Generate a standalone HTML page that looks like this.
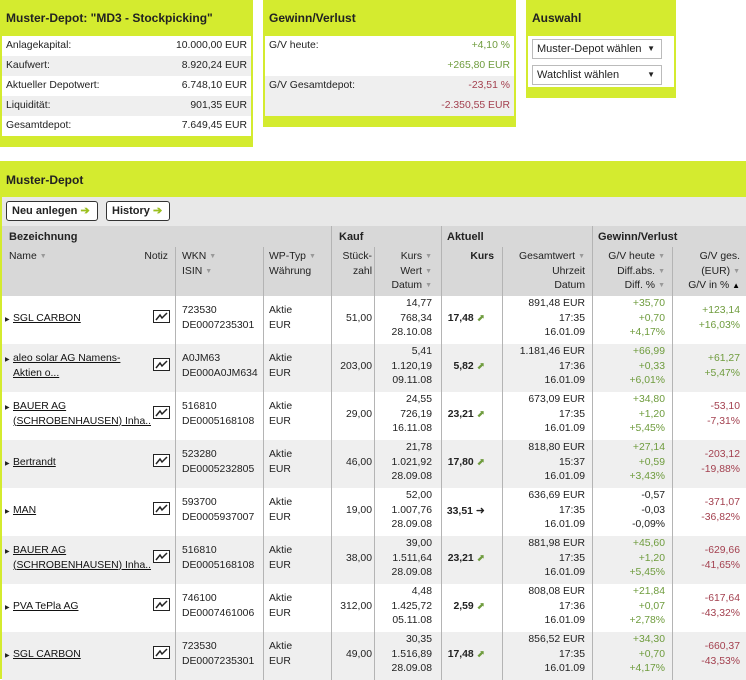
<!DOCTYPE html>
<html><head><meta charset="utf-8">
<style>
*{margin:0;padding:0;box-sizing:border-box}
body{width:746px;height:679px;overflow:hidden;background:#fff;font-family:"Liberation Sans",Arial,sans-serif;font-size:10.4px;color:#222;position:relative}
.a{position:absolute;white-space:nowrap}
.g{background:#d4eb2f}
.t{font-weight:bold;font-size:12px;color:#222}
.r{text-align:right}
.pos{color:#6f9c3e}.neg{color:#a3404f}
.s{font-size:7px;color:#999;margin-left:3px;vertical-align:1px}
.ln{position:absolute;width:1px;background:#b4b4b4}
.nm a{color:#111;text-decoration:underline}
.ml{line-height:14.5px}
.btn{position:absolute;border:1px solid #333;border-radius:3px;background:#fff;font-weight:bold;font-size:11px;height:20px;line-height:18px;padding:0 5px;white-space:nowrap}
.sel{position:absolute;border:1px solid #bbb;background:#fff;height:20px;line-height:18px;padding-left:4px;font-size:11px}
</style></head><body>

<div class="a g" style="left:0;top:0;width:253px;height:147px"></div>
<div class="a t" style="left:6px;top:11px">Muster-Depot: "MD3 - Stockpicking"</div>
<div class="a" style="left:2px;top:36px;width:249px;height:100px;background:#fff"></div>
<div class="a" style="left:2px;top:56px;width:249px;height:20px;background:#efefef"></div>
<div class="a" style="left:2px;top:96px;width:249px;height:20px;background:#efefef"></div>
<div id="sum"></div>

<div class="a g" style="left:263px;top:0;width:253px;height:127px"></div>
<div class="a t" style="left:269px;top:11px">Gewinn/Verlust</div>
<div class="a" style="left:265px;top:36px;width:249px;height:40px;background:#fff"></div>
<div class="a" style="left:265px;top:76px;width:249px;height:40px;background:#efefef"></div>
<div class="a" style="left:269px;top:40px">G/V heute:</div>
<div class="a r pos" style="right:236px;top:40px">+4,10 %</div>
<div class="a r pos" style="right:236px;top:60px">+265,80 EUR</div>
<div class="a" style="left:269px;top:80px">G/V Gesamtdepot:</div>
<div class="a r neg" style="right:236px;top:80px">-23,51 %</div>
<div class="a r neg" style="right:236px;top:100px">-2.350,55 EUR</div>

<div class="a g" style="left:526px;top:0;width:150px;height:98px"></div>
<div class="a t" style="left:532px;top:11px">Auswahl</div>
<div class="a" style="left:528px;top:36px;width:146px;height:51px;background:#fff"></div>
<div class="sel" style="left:532px;top:39px;width:130px">Muster-Depot wählen<span style="position:absolute;right:6px;font-size:8px">▼</span></div>
<div class="sel" style="left:532px;top:65px;width:130px">Watchlist wählen<span style="position:absolute;right:6px;font-size:8px">▼</span></div>

<div class="a g" style="left:0;top:161px;width:746px;height:518px"></div>
<div class="a t" style="left:6px;top:173px">Muster-Depot</div>
<div class="a" style="left:2px;top:197px;width:744px;height:29px;background:#e8e8e8"></div>
<div class="btn" style="left:6px;top:201px;width:92px">Neu anlegen <span style="color:#9bbf1f">➔</span></div>
<div class="btn" style="left:106px;top:201px;width:64px">History <span style="color:#9bbf1f">➔</span></div>
<div class="a" style="left:2px;top:226px;width:744px;height:70px;background:#d8d8d8"></div>
<div class="ln" style="left:331px;top:226px;height:70px"></div>
<div class="ln" style="left:441px;top:226px;height:70px"></div>
<div class="ln" style="left:592px;top:226px;height:70px"></div>
<div class="ln" style="left:175px;top:247px;height:49px"></div>
<div class="ln" style="left:263px;top:247px;height:49px"></div>
<div class="ln" style="left:374px;top:247px;height:49px"></div>
<div class="ln" style="left:502px;top:247px;height:49px"></div>
<div class="ln" style="left:672px;top:247px;height:49px"></div>
<div class="a" style="left:9px;top:231px;font-weight:bold;font-size:11px">Bezeichnung</div>
<div class="a" style="left:339px;top:231px;font-weight:bold;font-size:11px">Kauf</div>
<div class="a" style="left:447px;top:231px;font-weight:bold;font-size:11px">Aktuell</div>
<div class="a" style="left:598px;top:231px;font-weight:bold;font-size:11px">Gewinn/Verlust</div>
<div class="a" style="left:9px;top:251px">Name<span class="s">▼</span></div>
<div class="a r" style="right:578px;top:251px">Notiz</div>
<div class="a ml" style="left:182px;top:250px">WKN<span class="s">▼</span><br>ISIN<span class="s">▼</span></div>
<div class="a ml" style="left:269px;top:250px">WP-Typ<span class="s">▼</span><br>Währung</div>
<div class="a ml r" style="right:374px;top:250px">Stück-<br>zahl</div>
<div class="a ml r" style="right:314px;top:250px">Kurs<span class="s">▼</span><br>Wert<span class="s">▼</span><br>Datum<span class="s">▼</span></div>
<div class="a r" style="right:252px;top:251px;font-weight:bold">Kurs</div>
<div class="a ml r" style="right:161px;top:250px">Gesamtwert<span class="s">▼</span><br>Uhrzeit<br>Datum</div>
<div class="a ml r" style="right:81px;top:250px">G/V heute<span class="s">▼</span><br>Diff.abs.<span class="s">▼</span><br>Diff. %<span class="s">▼</span></div>
<div class="a ml r" style="right:6px;top:250px">G/V ges.<br>(EUR)<span class="s">▼</span><br>G/V in % <span style="font-size:8px;color:#000">▲</span></div>
<div id="rows"></div>

<script>
const sumLabels=["Anlagekapital:","Kaufwert:","Aktueller Depotwert:","Liquidität:","Gesamtdepot:"];
const sumValues=["10.000,00 EUR","8.920,24 EUR","6.748,10 EUR","901,35 EUR","7.649,45 EUR"];
const names=[["SGL CARBON"],["aleo solar AG Namens-","Aktien o..."],["BAUER AG","(SCHROBENHAUSEN) Inha.."],["Bertrandt"],["MAN"],["BAUER AG","(SCHROBENHAUSEN) Inha.."],["PVA TePla AG"],["SGL CARBON"]];
const wkn=["723530","A0JM63","516810","523280","593700","516810","746100","723530"];
const isin=["DE0007235301","DE000A0JM634","DE0005168108","DE0005232805","DE0005937007","DE0005168108","DE0007461006","DE0007235301"];
const stueck=["51,00","203,00","29,00","46,00","19,00","38,00","312,00","49,00"];
const kaufKurs=["14,77","5,41","24,55","21,78","52,00","39,00","4,48","30,35"];
const kaufWert=["768,34","1.120,19","726,19","1.021,92","1.007,76","1.511,64","1.425,72","1.516,89"];
const kaufDatum=["28.10.08","09.11.08","16.11.08","28.09.08","28.09.08","28.09.08","05.11.08","28.09.08"];
const kurs=["17,48","5,82","23,21","17,80","33,51","23,21","2,59","17,48"];
const trend=["up","up","up","up","flat","up","up","up"];
const gesamt=["891,48 EUR","1.181,46 EUR","673,09 EUR","818,80 EUR","636,69 EUR","881,98 EUR","808,08 EUR","856,52 EUR"];
const zeit=["17:35","17:36","17:35","15:37","17:35","17:35","17:36","17:35"];
const heuteAbs=["+35,70","+66,99","+34,80","+27,14","-0,57","+45,60","+21,84","+34,30"];
const diffAbs=["+0,70","+0,33","+1,20","+0,59","-0,03","+1,20","+0,07","+0,70"];
const diffPct=["+4,17%","+6,01%","+5,45%","+3,43%","-0,09%","+5,45%","+2,78%","+4,17%"];
const gvGes=["+123,14","+61,27","-53,10","-203,12","-371,07","-629,66","-617,64","-660,37"];
const gvPct=["+16,03%","+5,47%","-7,31%","-19,88%","-36,82%","-41,65%","-43,32%","-43,53%"];

const sum=document.getElementById('sum');
sumLabels.forEach((l,i)=>{
  const a=document.createElement('div');a.className='a';a.style.left='6px';a.style.top=(40+i*20)+'px';a.textContent=l;
  
  
  sum.appendChild(a);
  const b=document.createElement('div');b.className='a r';b.style.right=(746-247)+'px';b.style.top=(40+i*20)+'px';b.textContent=sumValues[i];
  
  
  sum.appendChild(b);
});

const rows=document.getElementById('rows');
function cell(html,css,name,inter){
  const d=document.createElement('div');d.className='a ml';d.style.cssText=css;d.innerHTML=html;
  
  
  rows.appendChild(d);return d;
}
function cls(v){return v[0]=='+'?'pos':'';}
const lines=[175,263,331,374,441,502,592,672];
names.forEach((n,i)=>{
  const top=296+i*48;
  const bg=document.createElement('div');bg.className='a';
  bg.style.cssText=`left:2px;top:${top}px;width:744px;height:48px;background:${i%2?'#efefef':'#fff'}`;
  
  
  rows.appendChild(bg);
  lines.forEach(x=>{const l=document.createElement('div');l.className='ln';l.style.left=x+'px';l.style.top=top+'px';l.style.height='48px';rows.appendChild(l);});
  const nt=n.length==1?top+16:top+8;
  cell('<a>'+n.join('<br>')+'</a>',`left:13px;top:${nt}px`,'stock-name-link',true).classList.add('nm');
  cell('<span style="font-size:6px">▶</span>',`left:5px;top:${nt}px`,'row-expand-arrow',true);
  cell('<svg width="17" height="13"><rect x="0.5" y="0.5" width="16" height="12" fill="#fff" stroke="#222"/><path d="M3 10 L7 5 L9 8 L14 3" stroke="#222" stroke-width="1.5" fill="none"/></svg>',`left:153px;top:${top+14}px;line-height:13px`,'note-icon',true);
  cell(wkn[i]+'<br>'+isin[i],`left:182px;top:${top+8}px`,'wkn-isin',false);
  cell('Aktie<br>EUR',`left:269px;top:${top+8}px`,'type-currency',false);
  cell(stueck[i],`right:374px;top:${top+16}px;text-align:right`,'quantity',false);
  cell(kaufKurs[i]+'<br>'+kaufWert[i]+'<br>'+kaufDatum[i],`right:314px;top:${top+1}px;text-align:right`,'buy-info',false);
  const arr=trend[i]=='up'?'<span style="color:#6f9c3e;font-size:10px">⬈</span>':'<span style="font-size:11px">➜</span>';
  cell('<b>'+kurs[i]+'</b> '+arr,`right:261px;top:${top+16}px;text-align:right`,'current-price',false);
  cell(gesamt[i]+'<br>'+zeit[i]+'<br>16.01.09',`right:161px;top:${top+1}px;text-align:right`,'current-value',false);
  cell(`<span class="${cls(heuteAbs[i])}">${heuteAbs[i]}<br>${diffAbs[i]}<br>${diffPct[i]}</span>`,`right:81px;top:${top+1}px;text-align:right`,'gain-today',false);
  cell(`<span class="${gvGes[i][0]=='+'?'pos':'neg'}">${gvGes[i]}<br>${gvPct[i]}</span>`,`right:6px;top:${top+8}px;text-align:right`,'gain-total',false);
});
</script>
</body></html>
